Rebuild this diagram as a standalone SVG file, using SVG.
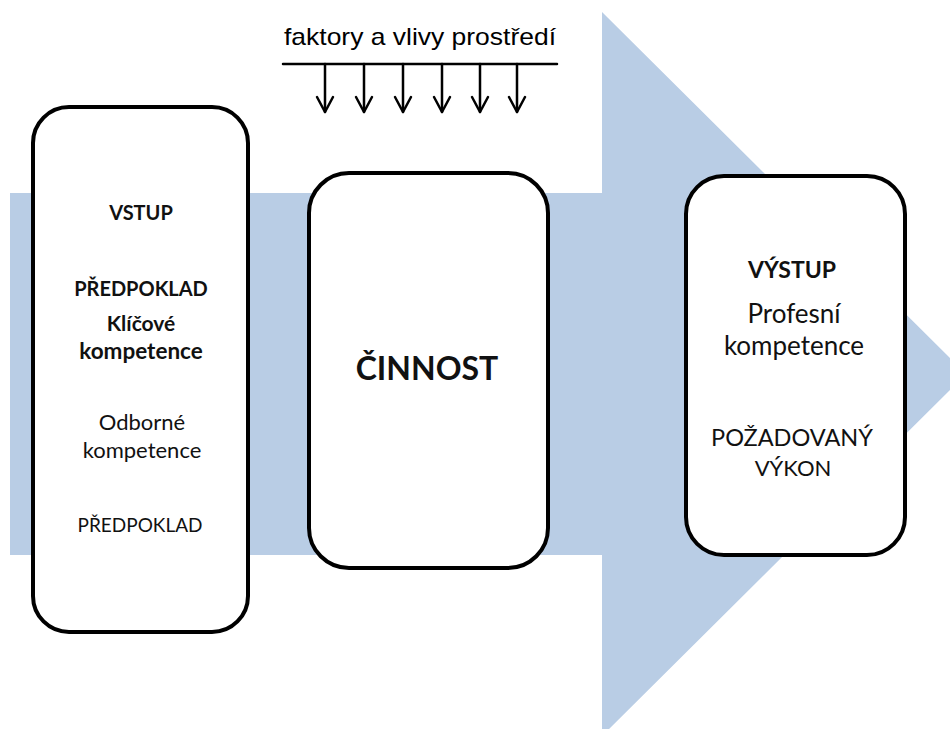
<svg xmlns="http://www.w3.org/2000/svg" width="950" height="729" viewBox="0 0 950 729">
<style>
.box{fill:#fff;stroke:#000;stroke-width:4}
.t{font-family:Lato,"Open Sans","DejaVu Sans",sans-serif;fill:#111;text-anchor:middle}
.b{font-weight:bold}
.ln{stroke:#000;stroke-width:2.5;fill:none;stroke-linecap:round;stroke-linejoin:round}
</style>
<defs>
<marker id="ah" viewBox="0 0 20 20" refX="18" refY="10" markerWidth="20" markerHeight="20" markerUnits="userSpaceOnUse" orient="auto">
<path d="M3 2 L18 10 L3 18" fill="none" stroke="#000" stroke-width="2.5" stroke-linejoin="round" stroke-linecap="round"/>
</marker>
</defs>
<g id="big-arrow">
<polygon points="10,193 602,193 602,12 966,374 602,736 602,555 10,555" fill="#B9CDE5"/>
</g>
<g id="environment">
<text x="420" y="45" font-family="'Liberation Sans',Arial,sans-serif" font-size="24" text-anchor="middle" fill="#000" textLength="272" lengthAdjust="spacingAndGlyphs">faktory a vlivy prostředí</text>
</g>
<g id="connectors">
<line class="ln" x1="283" y1="64" x2="557" y2="64"/>
<g class="ln" marker-end="url(#ah)">
<path d="M325 64 V112"/>
<path d="M364 64 V112"/>
<path d="M403 64 V112"/>
<path d="M442 64 V112"/>
<path d="M480 64 V112"/>
<path d="M517 64 V112"/>
</g>
</g>
<g id="vstup">
<rect class="box" x="33" y="107" width="215" height="525" rx="36"/>
<text class="t b" x="141" y="220" font-size="20">VSTUP</text>
<text class="t b" x="141" y="296" font-size="20">PŘEDPOKLAD</text>
<text class="t b" x="141" y="331" font-size="21">Klíčové</text>
<text class="t b" x="141" y="359" font-size="22.5">kompetence</text>
<text class="t" x="142" y="430" font-size="22">Odborné</text>
<text class="t" x="142" y="458" font-size="22">kompetence</text>
<text class="t" x="140" y="532" font-size="19">PŘEDPOKLAD</text>
</g>
<g id="cinnost">
<rect class="box" x="309" y="173" width="239" height="395" rx="40"/>
<text class="t b" x="427" y="380" font-size="32">ČINNOST</text>
</g>
<g id="vystup">
<rect class="box" x="686" y="176" width="219" height="379" rx="38"/>
<text class="t b" x="792" y="278" font-size="23">VÝSTUP</text>
<text class="t" x="794" y="323" font-size="26">Profesní</text>
<text class="t" x="794" y="355" font-size="26">kompetence</text>
<text class="t" x="792" y="446" font-size="23.5">POŽADOVANÝ</text>
<text class="t" x="793" y="476" font-size="22">VÝKON</text>
</g>
</svg>
